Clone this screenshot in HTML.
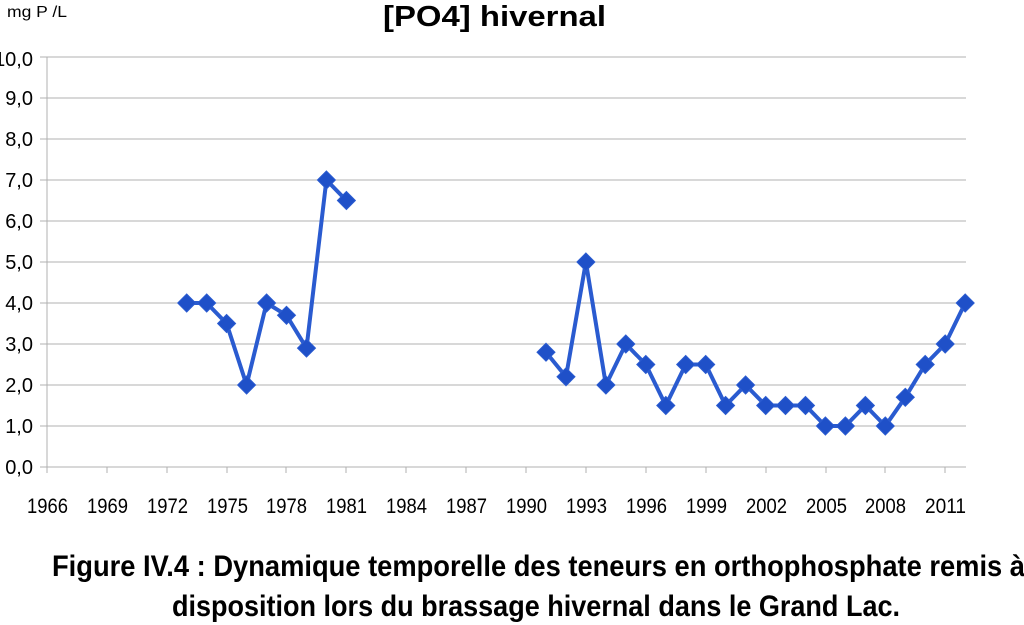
<!DOCTYPE html>
<html><head><meta charset="utf-8"><style>
html,body{margin:0;padding:0;background:#fff;}
svg{display:block;}
</style></head><body>
<svg width="1024" height="625" viewBox="0 0 1024 625" xmlns="http://www.w3.org/2000/svg">
<rect width="1024" height="625" fill="#ffffff"/>
<!-- gridlines -->
<g stroke="#b0b0b0" stroke-width="1" fill="none">
<line x1="40" y1="57" x2="966" y2="57"/>
<line x1="40" y1="98" x2="966" y2="98"/>
<line x1="40" y1="139" x2="966" y2="139"/>
<line x1="40" y1="180" x2="966" y2="180"/>
<line x1="40" y1="221" x2="966" y2="221"/>
<line x1="40" y1="262" x2="966" y2="262"/>
<line x1="40" y1="303" x2="966" y2="303"/>
<line x1="40" y1="344" x2="966" y2="344"/>
<line x1="40" y1="385" x2="966" y2="385"/>
<line x1="40" y1="426" x2="966" y2="426"/>
<line x1="40" y1="467" x2="966" y2="467"/>
<line x1="47" y1="57" x2="47" y2="473"/>
<line x1="107" y1="467" x2="107" y2="473"/>
<line x1="167" y1="467" x2="167" y2="473"/>
<line x1="227" y1="467" x2="227" y2="473"/>
<line x1="286" y1="467" x2="286" y2="473"/>
<line x1="346" y1="467" x2="346" y2="473"/>
<line x1="406" y1="467" x2="406" y2="473"/>
<line x1="466" y1="467" x2="466" y2="473"/>
<line x1="526" y1="467" x2="526" y2="473"/>
<line x1="586" y1="467" x2="586" y2="473"/>
<line x1="646" y1="467" x2="646" y2="473"/>
<line x1="706" y1="467" x2="706" y2="473"/>
<line x1="766" y1="467" x2="766" y2="473"/>
<line x1="826" y1="467" x2="826" y2="473"/>
<line x1="885" y1="467" x2="885" y2="473"/>
<line x1="945" y1="467" x2="945" y2="473"/>
</g>
<!-- y labels -->
<g font-family="Liberation Sans, sans-serif" font-size="20" fill="#000" text-anchor="end">
<text x="33" y="66">10,0</text>
<text x="33" y="105">9,0</text>
<text x="33" y="146">8,0</text>
<text x="33" y="187">7,0</text>
<text x="33" y="228">6,0</text>
<text x="33" y="269">5,0</text>
<text x="33" y="310">4,0</text>
<text x="33" y="351">3,0</text>
<text x="33" y="392">2,0</text>
<text x="33" y="433">1,0</text>
<text x="33" y="474">0,0</text>
</g>
<!-- x labels -->
<g font-family="Liberation Sans, sans-serif" font-size="21" fill="#000">
<text x="27" y="513" textLength="41" lengthAdjust="spacingAndGlyphs">1966</text>
<text x="87" y="513" textLength="41" lengthAdjust="spacingAndGlyphs">1969</text>
<text x="147" y="513" textLength="41" lengthAdjust="spacingAndGlyphs">1972</text>
<text x="207" y="513" textLength="41" lengthAdjust="spacingAndGlyphs">1975</text>
<text x="266" y="513" textLength="41" lengthAdjust="spacingAndGlyphs">1978</text>
<text x="326" y="513" textLength="41" lengthAdjust="spacingAndGlyphs">1981</text>
<text x="386" y="513" textLength="41" lengthAdjust="spacingAndGlyphs">1984</text>
<text x="446" y="513" textLength="41" lengthAdjust="spacingAndGlyphs">1987</text>
<text x="506" y="513" textLength="41" lengthAdjust="spacingAndGlyphs">1990</text>
<text x="566" y="513" textLength="41" lengthAdjust="spacingAndGlyphs">1993</text>
<text x="626" y="513" textLength="41" lengthAdjust="spacingAndGlyphs">1996</text>
<text x="686" y="513" textLength="41" lengthAdjust="spacingAndGlyphs">1999</text>
<text x="746" y="513" textLength="41" lengthAdjust="spacingAndGlyphs">2002</text>
<text x="806" y="513" textLength="41" lengthAdjust="spacingAndGlyphs">2005</text>
<text x="865" y="513" textLength="41" lengthAdjust="spacingAndGlyphs">2008</text>
<text x="925" y="513" textLength="41" lengthAdjust="spacingAndGlyphs">2011</text>
</g>
<!-- unit + title -->
<text x="7" y="17" font-family="Liberation Sans, sans-serif" font-size="16" fill="#000" textLength="60" lengthAdjust="spacingAndGlyphs">mg P /L</text>
<text x="383" y="26" font-family="Liberation Sans, sans-serif" font-size="29" font-weight="bold" fill="#000" textLength="223" lengthAdjust="spacingAndGlyphs">[PO4] hivernal</text>
<!-- series -->
<g fill="none" stroke="#2a5bd0" stroke-width="4" stroke-linejoin="round" stroke-linecap="round">
<polyline points="186.7,303 206.7,303 226.6,323.5 246.6,385 266.6,303 286.5,315.3 306.5,348.1 326.4,180 346.4,200.5"/>
<polyline points="546,352.2 566,376.8 585.9,262 605.9,385 625.8,344 645.8,364.5 665.8,405.5 685.7,364.5 705.7,364.5 725.6,405.5 745.6,385 765.7,405.5 785.5,405.5 805.5,405.5 825.4,426 845.4,426 865.4,405.5 885.3,426 905.3,397.3 925.2,364.5 945.2,344 965.2,303"/>
</g>
<g fill="#1f50c8" stroke="#2a5bd0" stroke-width="1">
<path d="M186.7,294l9,9l-9,9l-9,-9z"/>
<path d="M206.7,294l9,9l-9,9l-9,-9z"/>
<path d="M226.6,314.5l9,9l-9,9l-9,-9z"/>
<path d="M246.6,376l9,9l-9,9l-9,-9z"/>
<path d="M266.6,294l9,9l-9,9l-9,-9z"/>
<path d="M286.5,306.3l9,9l-9,9l-9,-9z"/>
<path d="M306.5,339.1l9,9l-9,9l-9,-9z"/>
<path d="M326.4,171l9,9l-9,9l-9,-9z"/>
<path d="M346.4,191.5l9,9l-9,9l-9,-9z"/>
<path d="M546,343.2l9,9l-9,9l-9,-9z"/>
<path d="M566,367.8l9,9l-9,9l-9,-9z"/>
<path d="M585.9,253l9,9l-9,9l-9,-9z"/>
<path d="M605.9,376l9,9l-9,9l-9,-9z"/>
<path d="M625.8,335l9,9l-9,9l-9,-9z"/>
<path d="M645.8,355.5l9,9l-9,9l-9,-9z"/>
<path d="M665.8,396.5l9,9l-9,9l-9,-9z"/>
<path d="M685.7,355.5l9,9l-9,9l-9,-9z"/>
<path d="M705.7,355.5l9,9l-9,9l-9,-9z"/>
<path d="M725.6,396.5l9,9l-9,9l-9,-9z"/>
<path d="M745.6,376l9,9l-9,9l-9,-9z"/>
<path d="M765.7,396.5l9,9l-9,9l-9,-9z"/>
<path d="M785.5,396.5l9,9l-9,9l-9,-9z"/>
<path d="M805.5,396.5l9,9l-9,9l-9,-9z"/>
<path d="M825.4,417l9,9l-9,9l-9,-9z"/>
<path d="M845.4,417l9,9l-9,9l-9,-9z"/>
<path d="M865.4,396.5l9,9l-9,9l-9,-9z"/>
<path d="M885.3,417l9,9l-9,9l-9,-9z"/>
<path d="M905.3,388.3l9,9l-9,9l-9,-9z"/>
<path d="M925.2,355.5l9,9l-9,9l-9,-9z"/>
<path d="M945.2,335l9,9l-9,9l-9,-9z"/>
<path d="M965.2,294l9,9l-9,9l-9,-9z"/>
</g>
<!-- caption -->
<g font-family="Liberation Sans, sans-serif" font-size="30" font-weight="bold" fill="#000">
<text x="52" y="576" textLength="973" lengthAdjust="spacingAndGlyphs">Figure IV.4 : Dynamique temporelle des teneurs en orthophosphate remis à</text>
<text x="172" y="616" textLength="728" lengthAdjust="spacingAndGlyphs">disposition lors du brassage hivernal dans le Grand Lac.</text>
</g>
</svg>
</body></html>
